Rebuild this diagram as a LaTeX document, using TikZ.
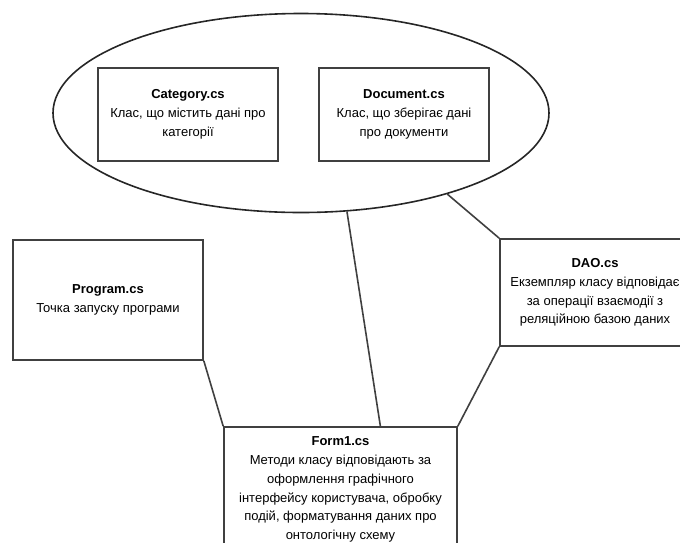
\documentclass[tikz,border=0pt]{standalone}
\usepackage{fontspec}
\setmainfont{Liberation Sans}
\usetikzlibrary{shapes.geometric, calc}
\tikzset{
  class box/.style={
    rectangle,
    draw=black!75,
    line width=1.6pt,
    inner sep=0pt,
    align=center,
    font=\fontsize{13}{18.8}\selectfont
  },
  group oval/.style={
    ellipse,
    draw=black!85,
    line width=1.6pt,
    inner sep=0pt
  },
  link/.style={
    draw=black!75,
    line width=1.6pt
  }
}

\begin{document}
\begin{tikzpicture}[x=1pt, y=-1pt]
    \useasboundingbox (0,0) rectangle (680,542);
    \begin{scope}
    \clip (0,0) rectangle (680,542);

    % овал з класами даних
    \node[group oval, minimum width=496pt, minimum height=199pt] (models) at (301,113) {};
    \node[class box, minimum width=180pt, minimum height=93pt] (category) at (188,114.5)
      {\textbf{Category.cs}\\Клас, що містить дані про\\категорії};
    \node[class box, minimum width=170pt, minimum height=93pt] (document) at (404,114.5)
      {\textbf{Document.cs}\\Клас, що зберігає дані\\про документи};

    % інші класи
    \node[class box, minimum width=190pt, minimum height=120pt] (program) at (108,300)
      {\textbf{Program.cs}\\Точка запуску програми};
    \node[class box, minimum width=190pt, minimum height=107pt] (dao) at (595,292.5)
      {\textbf{DAO.cs}\\Екземпляр класу відповідає\\за операції взаємодії з\\реляційною базою даних};
    \node[class box, minimum width=233pt, minimum height=125pt] (form) at (340.5,489.5)
      {\textbf{Form1.cs}\\Методи класу відповідають за\\оформлення графічного\\інтерфейсу користувача, обробку\\подій, форматування даних про\\онтологічну схему};

    % зв'язки
    \draw[link] (models.-65) -- ($(form.north west)!0.67!(form.north east)$);
    \draw[link] (models.-29) -- (dao.north west);
    \draw[link] (program.south east) -- (form.north west);
    \draw[link] (dao.south west) -- (form.north east);

    \end{scope}
\end{tikzpicture}
\end{document}
